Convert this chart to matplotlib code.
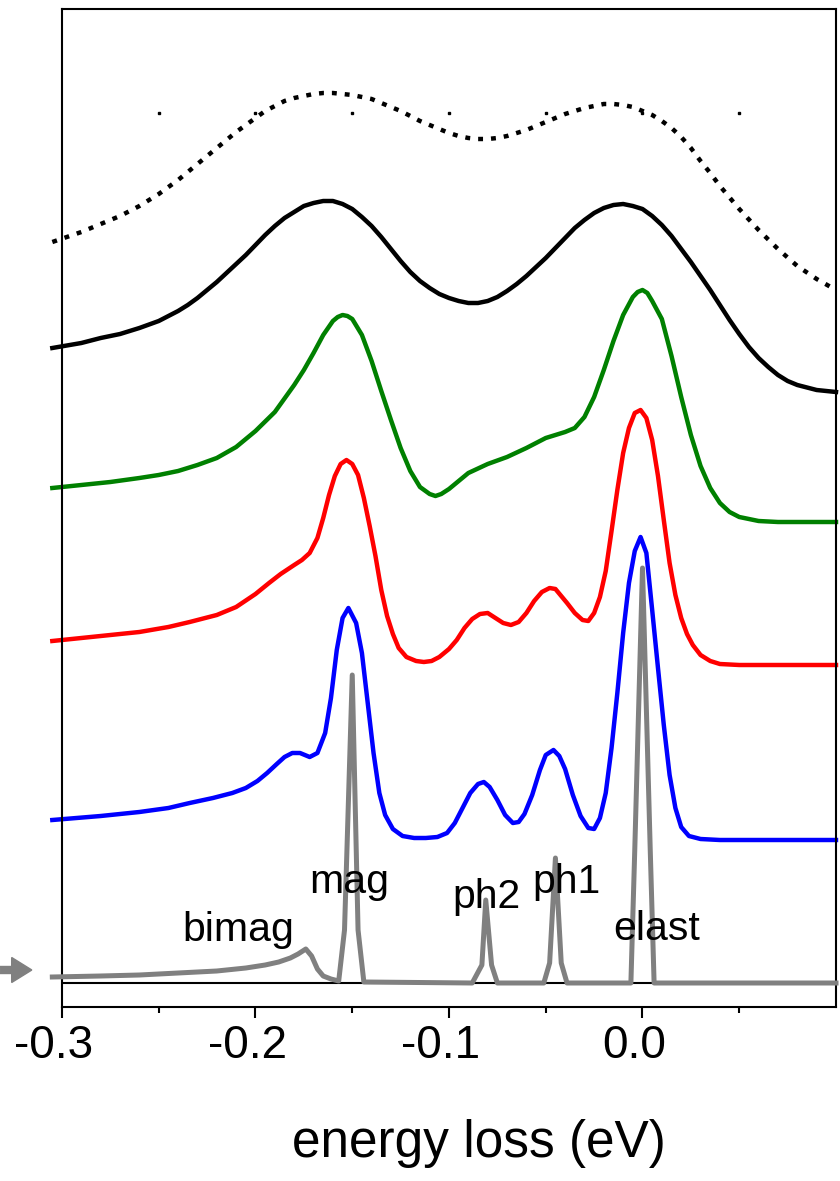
import matplotlib
matplotlib.use('Agg')
import matplotlib.pyplot as plt
from matplotlib.patches import FancyArrow
from matplotlib.transforms import ScaledTranslation

plt.rcParams['font.family'] = ['Liberation Sans', 'DejaVu Sans']
plt.rcParams['axes.unicode_minus'] = False

# spectra, offset vertically (arb. units), energy loss in eV
dot_x = [-0.305, -0.29, -0.28, -0.27, -0.26, -0.25, -0.24, -0.23, -0.22, -0.21,
         -0.205, -0.20, -0.195, -0.19, -0.185, -0.18, -0.175, -0.17, -0.165, -0.16,
         -0.155, -0.15, -0.145, -0.14, -0.135, -0.13, -0.125, -0.12, -0.115, -0.11,
         -0.105, -0.10, -0.095, -0.09, -0.085, -0.08, -0.075, -0.07, -0.065, -0.06,
         -0.055, -0.05, -0.045, -0.04, -0.035, -0.03, -0.025, -0.02, -0.015, -0.01,
         -0.005, 0.0, 0.005, 0.01, 0.015, 0.02, 0.025, 0.03, 0.035, 0.04,
         0.05, 0.06, 0.07, 0.08, 0.09, 0.10]
dot_y = [7.41, 7.51, 7.59, 7.67, 7.77, 7.89, 8.03, 8.19, 8.35, 8.51,
         8.58, 8.65, 8.72, 8.77, 8.82, 8.85, 8.87, 8.89, 8.90, 8.90,
         8.89, 8.88, 8.86, 8.84, 8.80, 8.76, 8.72, 8.67, 8.62, 8.58,
         8.54, 8.50, 8.47, 8.45, 8.44, 8.44, 8.45, 8.47, 8.50, 8.53,
         8.57, 8.61, 8.65, 8.69, 8.72, 8.75, 8.77, 8.79, 8.79, 8.78,
         8.76, 8.72, 8.68, 8.62, 8.55, 8.46, 8.35, 8.22, 8.10, 7.97,
         7.74, 7.53, 7.34, 7.17, 7.04, 6.93]

black_x = [-0.305, -0.29, -0.28, -0.27, -0.26, -0.25, -0.24, -0.235, -0.23, -0.225,
           -0.22, -0.215, -0.21, -0.205, -0.20, -0.195, -0.19, -0.185, -0.18, -0.175,
           -0.17, -0.165, -0.16, -0.155, -0.15, -0.145, -0.14, -0.135, -0.13, -0.125,
           -0.12, -0.115, -0.11, -0.105, -0.10, -0.095, -0.09, -0.085, -0.08, -0.075,
           -0.07, -0.065, -0.06, -0.055, -0.05, -0.045, -0.04, -0.035, -0.03, -0.025,
           -0.02, -0.015, -0.01, -0.005, 0.0, 0.005, 0.01, 0.015, 0.02, 0.025,
           0.03, 0.035, 0.04, 0.045, 0.05, 0.055, 0.06, 0.065, 0.07, 0.075,
           0.08, 0.09, 0.10]
black_y = [6.35, 6.40, 6.45, 6.49, 6.55, 6.62, 6.72, 6.78, 6.85, 6.93,
           7.01, 7.10, 7.19, 7.28, 7.38, 7.48, 7.57, 7.65, 7.71, 7.77,
           7.80, 7.82, 7.82, 7.79, 7.74, 7.66, 7.57, 7.46, 7.34, 7.22,
           7.11, 7.02, 6.95, 6.89, 6.85, 6.82, 6.80, 6.80, 6.82, 6.86,
           6.92, 6.99, 7.07, 7.16, 7.25, 7.35, 7.45, 7.55, 7.63, 7.70,
           7.75, 7.78, 7.79, 7.77, 7.74, 7.67, 7.58, 7.47, 7.34, 7.21,
           7.07, 6.93, 6.78, 6.63, 6.49, 6.36, 6.25, 6.16, 6.08, 6.02,
           5.98, 5.93, 5.91]

green_x = [-0.305, -0.29, -0.275, -0.26, -0.25, -0.24, -0.23, -0.22, -0.21, -0.20,
           -0.19, -0.18, -0.175, -0.17, -0.165, -0.16, -0.1575, -0.155, -0.1525, -0.15,
           -0.145, -0.14, -0.135, -0.13, -0.125, -0.12, -0.115, -0.11, -0.107, -0.104,
           -0.10, -0.095, -0.09, -0.08, -0.07, -0.06, -0.05, -0.04, -0.035, -0.03,
           -0.025, -0.02, -0.015, -0.01, -0.005, -0.0025, 0.0, 0.0025, 0.005, 0.01,
           0.015, 0.02, 0.025, 0.03, 0.035, 0.04, 0.045, 0.05, 0.06, 0.07, 0.10]
green_y = [4.95, 4.98, 5.01, 5.05, 5.08, 5.12, 5.18, 5.25, 5.36, 5.52,
           5.71, 5.98, 6.13, 6.30, 6.48, 6.62, 6.66, 6.68, 6.67, 6.64,
           6.48, 6.22, 5.92, 5.63, 5.35, 5.12, 4.96, 4.89, 4.87, 4.89,
           4.94, 5.02, 5.10, 5.19, 5.26, 5.35, 5.45, 5.51, 5.55, 5.66,
           5.86, 6.13, 6.42, 6.68, 6.86, 6.91, 6.93, 6.90, 6.82, 6.64,
           6.27, 5.86, 5.48, 5.17, 4.95, 4.80, 4.71, 4.66, 4.62, 4.61, 4.61]

red_x = [-0.305, -0.28, -0.26, -0.245, -0.234, -0.22, -0.21, -0.2, -0.193, -0.187,
         -0.18, -0.176, -0.172, -0.168, -0.165, -0.162, -0.159, -0.156, -0.153, -0.150,
         -0.147, -0.144, -0.141, -0.138, -0.135, -0.132, -0.129, -0.126, -0.122, -0.117,
         -0.113, -0.109, -0.105, -0.100, -0.096, -0.092, -0.088, -0.084, -0.080, -0.076,
         -0.072, -0.068, -0.064, -0.060, -0.056, -0.052, -0.048, -0.045, -0.042, -0.039,
         -0.035, -0.031, -0.028, -0.025, -0.022, -0.019, -0.016, -0.013, -0.010, -0.007,
         -0.004, -0.001, 0.002, 0.005, 0.008, 0.011, 0.014, 0.017, 0.020, 0.023,
         0.026, 0.030, 0.035, 0.040, 0.050, 0.100]
red_y = [3.42, 3.47, 3.51, 3.56, 3.61, 3.68, 3.76, 3.89, 4.00, 4.09,
         4.18, 4.23, 4.30, 4.45, 4.65, 4.88, 5.07, 5.19, 5.23, 5.19,
         5.08, 4.85, 4.57, 4.27, 3.93, 3.67, 3.49, 3.35, 3.26, 3.22,
         3.21, 3.22, 3.26, 3.34, 3.43, 3.55, 3.64, 3.69, 3.70, 3.65,
         3.60, 3.58, 3.61, 3.70, 3.82, 3.91, 3.95, 3.94, 3.87, 3.80,
         3.70, 3.63, 3.62, 3.70, 3.86, 4.12, 4.52, 4.93, 5.30, 5.55,
         5.70, 5.73, 5.65, 5.43, 5.07, 4.63, 4.20, 3.88, 3.65, 3.49,
         3.38, 3.28, 3.22, 3.19, 3.18, 3.18]

blue_x = [-0.305, -0.28, -0.26, -0.245, -0.234, -0.222, -0.212, -0.205, -0.199, -0.194,
          -0.189, -0.185, -0.181, -0.177, -0.172, -0.168, -0.164, -0.161, -0.158, -0.155,
          -0.152, -0.148, -0.145, -0.142, -0.139, -0.136, -0.133, -0.129, -0.124, -0.118,
          -0.112, -0.106, -0.101, -0.097, -0.093, -0.089, -0.085, -0.082, -0.079, -0.075,
          -0.071, -0.067, -0.064, -0.061, -0.057, -0.053, -0.050, -0.046, -0.043, -0.040,
          -0.036, -0.032, -0.028, -0.025, -0.022, -0.019, -0.016, -0.013, -0.010, -0.007,
          -0.004, -0.001, 0.002, 0.005, 0.008, 0.011, 0.014, 0.017, 0.020, 0.024,
          0.030, 0.040, 0.100]
blue_y = [1.63, 1.67, 1.71, 1.75, 1.80, 1.85, 1.90, 1.95, 2.02, 2.10,
          2.19, 2.26, 2.30, 2.30, 2.26, 2.30, 2.50, 2.85, 3.33, 3.65,
          3.75, 3.60, 3.30, 2.80, 2.30, 1.90, 1.68, 1.54, 1.47, 1.45,
          1.45, 1.46, 1.50, 1.60, 1.75, 1.90, 1.99, 2.01, 1.96, 1.83,
          1.68, 1.60, 1.61, 1.69, 1.88, 2.13, 2.28, 2.33, 2.27, 2.14,
          1.88, 1.67, 1.55, 1.54, 1.65, 1.90, 2.35, 2.90, 3.50, 4.00,
          4.32, 4.46, 4.30, 3.73, 3.15, 2.58, 2.08, 1.75, 1.56, 1.47,
          1.44, 1.43, 1.43]

# model spectrum (bimagnon tail, magnon, two phonons, elastic line)
gray_x = [-0.305, -0.28, -0.26, -0.24, -0.22, -0.205, -0.195, -0.188, -0.182, -0.178,
          -0.174, -0.171, -0.168, -0.165, -0.161, -0.157, -0.154, -0.150, -0.147, -0.144,
          -0.088, -0.083, -0.081, -0.078, -0.075, -0.051, -0.048, -0.045, -0.042, -0.039,
          -0.006, -0.004, 0.000, 0.004, 0.006, 0.100]
gray_y = [0.06, 0.07, 0.08, 0.10, 0.12, 0.15, 0.18, 0.21, 0.25, 0.29,
          0.34, 0.27, 0.14, 0.07, 0.04, 0.02, 0.53, 3.08, 0.53, 0.01,
          0.00, 0.18, 0.83, 0.18, 0.00, 0.00, 0.20, 1.25, 0.20, 0.00,
          0.00, 1.33, 4.15, 1.33, 0.00, 0.00]

peak_names = ['bimag', 'mag', 'ph2', 'ph1', 'elast']
peak_label_x = [-0.209, -0.1517, -0.0804, -0.0395, 0.0075]
peak_label_y = [0.42, 0.90, 0.75, 0.90, 0.43]

mark_x = [-0.25, -0.2, -0.15, -0.1, -0.05, 0.0, 0.05]
mark_y = 8.70

fig = plt.figure(figsize=(8.4, 11.81), dpi=100)
ax = fig.add_axes([62 / 840, 1 - 1007 / 1181, 774 / 840, 998 / 1181])

ax.axhline(0, color='black', lw=1.5, zorder=1)
ax.plot(mark_x, [mark_y] * len(mark_x), 's', color='black', ms=1.6, zorder=1)

lw = 3.2
ax.plot(dot_x, dot_y, color='black', lw=lw, linestyle=(0, (1.1, 1.8)),
        dash_capstyle='butt', clip_on=False)
ax.plot(black_x, black_y, color='black', lw=lw, clip_on=False)
ax.plot(green_x, green_y, color='#008000', lw=lw, clip_on=False)
ax.plot(red_x, red_y, color='#ff0000', lw=lw, clip_on=False)
ax.plot(blue_x, blue_y, color='#0000ff', lw=lw, clip_on=False)
ax.plot(gray_x, gray_y, color='#808080', lw=3.6, clip_on=False, zorder=3)

for name, lx, ly in zip(peak_names, peak_label_x, peak_label_y):
    ax.text(lx, ly, name, fontsize=29.5, ha='center', va='baseline', zorder=4)

# arrow marking the model spectrum
arrow = FancyArrow(-0.080, 0.13, 0.041, 0, width=0.07, head_width=0.25,
                   head_length=0.026, length_includes_head=True, color='#808080',
                   transform=ax.get_yaxis_transform(), clip_on=False)
ax.add_patch(arrow)

ax.set_xlim(-0.3, 0.1)
ax.set_ylim(-0.24, 9.74)
ax.set_yticks([])
ax.set_xticks([-0.3, -0.2, -0.1, 0.0])
ax.set_xticklabels(['-0.3', '-0.2', '-0.1', '0.0'])
ax.set_xticks([-0.25, -0.15, -0.05, 0.05], minor=True)
ax.tick_params(axis='x', which='major', direction='out', length=8, width=1.5,
               labelsize=33, pad=4)
ax.tick_params(axis='x', which='minor', direction='out', length=4.3, width=1.5)
for spine in ax.spines.values():
    spine.set_linewidth(1.5)

shift = ScaledTranslation(-0.08, 0, fig.dpi_scale_trans)
for lbl in ax.get_xticklabels():
    lbl.set_transform(lbl.get_transform() + shift)

ax.set_xlabel('energy loss (eV)', fontsize=37)
ax.xaxis.set_label_coords(0.539, -0.112)

fig.savefig('out.png', dpi=100)
